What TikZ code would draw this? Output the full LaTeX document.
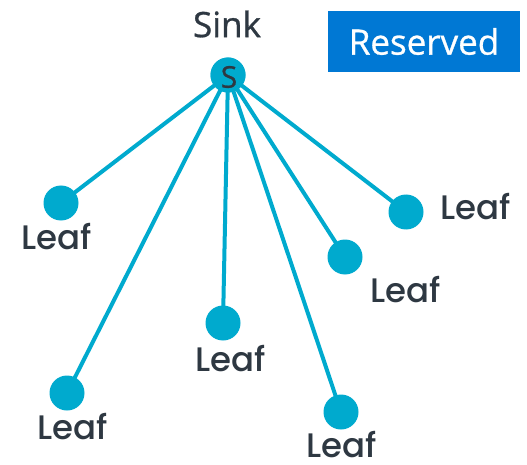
\documentclass[tikz,border=0pt]{standalone}
\usepackage{fontspec}
\setmainfont{Poppins Medium}
\newfontfamily\labelfont{Open Sans}[FakeBold=0.8]
\usepackage{tikz}
\definecolor{leafblue}{RGB}{0,170,206}
\definecolor{boxblue}{RGB}{0,120,212}
\definecolor{inkgray}{RGB}{46,56,66}
\tikzstyle{leaf}=[
        circle,
        fill=leafblue,
        minimum size=35pt,
        inner sep=0pt
]
\tikzstyle{link}=[
        draw=leafblue,
        line width=4pt
]
\tikzstyle{leaflabel}=[
        text=inkgray,
        inner sep=0pt,
        font=\fontsize{34}{34}\selectfont
]

\begin{document}
\begin{tikzpicture}[x=1pt,y=-1pt]
                        \useasboundingbox (0,0) rectangle (527,465);

                        \node[leaf] (sink) at (228,75) {};
                        \node[leaf] (leafa) at (61,203) {};
                        \node[leaf] (leafb) at (67,393) {};
                        \node[leaf] (leafc) at (223,323) {};
                        \node[leaf] (leafd) at (341,412) {};
                        \node[leaf] (leafe) at (345,257) {};
                        \node[leaf] (leaff) at (406,212) {};

                        \foreach \n in {leafa,leafb,leafc,leafd,leafe,leaff} {
                            \draw[link] (sink.center) -- (\n.center);
                        }
                        \node[leaf] at (sink) {};
                        \node[text=inkgray, font=\labelfont\fontsize{30}{30}\selectfont] (sletter) at (229,77) {S};

                        \node[text=inkgray, font=\labelfont\fontsize{35}{35}\selectfont] (sinklabel) at (227,24) {Sink};
                        \node[fill=boxblue, text=white, minimum width=192pt, minimum height=61pt,
                              font=\labelfont\fontsize{35}{35}\selectfont] (reserved) at (424,41.5) {Reserved};

                        \node[leaflabel] (labela) at (57,237) {Leaf};
                        \node[leaflabel] (labelb) at (73,427) {Leaf};
                        \node[leaflabel] (labelc) at (231,359) {Leaf};
                        \node[leaflabel] (labeld) at (342,445) {Leaf};
                        \node[leaflabel] (labele) at (406,290) {Leaf};
                        \node[leaflabel] (labelf) at (476,207) {Leaf};

                    \end{tikzpicture}
\end{document}
